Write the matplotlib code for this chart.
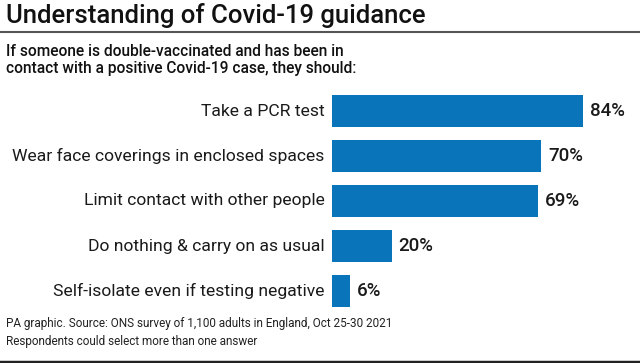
import matplotlib.pyplot as plt
from matplotlib.lines import Line2D

categories = ['Take a PCR test',
              'Wear face coverings in enclosed spaces',
              'Limit contact with other people',
              'Do nothing & carry on as usual',
              'Self-isolate even if testing negative']
values = [84, 70, 69, 20, 6]

W, H = 640, 363
fig = plt.figure(figsize=(W / 100, H / 100), dpi=100)
fig.patch.set_facecolor('white')

# bars area: x 332..631 px, rows centred at 111..291 px
ax = fig.add_axes([332 / W, (H - 313.5) / H, 299 / W, 225 / H])
y = list(range(len(categories)))
ax.barh(y, values, height=0.71, color='#0a74bb')
ax.set_xlim(0, 100)
ax.set_ylim(4.5, -0.5)
ax.axis('off')

for i, (cat, v) in enumerate(zip(categories, values)):
    ax.text(-2.4, i, cat, ha='right', va='center', fontsize=12.6,
            family='Roboto', color='#1a1a1a')
    ax.text(v + 2.3, i, f'{v}%', ha='left', va='center', fontsize=13.5,
            family='Roboto', fontweight='medium', color='#1a1a1a')

fig.text(6 / W, 1 - 16 / H, 'Understanding of Covid-19 guidance',
         fontsize=18.5, family='Roboto', fontweight='medium',
         va='center', ha='left', color='#111111')
fig.add_artist(Line2D([0, 1], [1 - 32 / H] * 2, color='#555555', lw=1.5))
fig.text(6 / W, 1 - 51 / H, 'If someone is double-vaccinated and has been in',
         fontsize=11.2, family='Roboto', fontweight='medium',
         va='center', ha='left', color='#111111')
fig.text(6 / W, 1 - 69 / H, 'contact with a positive Covid-19 case, they should:',
         fontsize=11.2, family='Roboto', fontweight='medium',
         va='center', ha='left', color='#111111')

fig.text(6 / W, 1 - 324 / H,
         'PA graphic. Source: ONS survey of 1,100 adults in England, Oct 25-30 2021',
         fontsize=8.5, family='Roboto',
         va='center', ha='left', color='#222222')
fig.text(6 / W, 1 - 341 / H, 'Respondents could select more than one answer',
         fontsize=8.5, family='Roboto',
         va='center', ha='left', color='#222222')
fig.add_artist(Line2D([0, 1], [1 - 361.5 / H] * 2, color='#222222', lw=2.5))

fig.savefig('out.png', dpi=100, facecolor='white')
